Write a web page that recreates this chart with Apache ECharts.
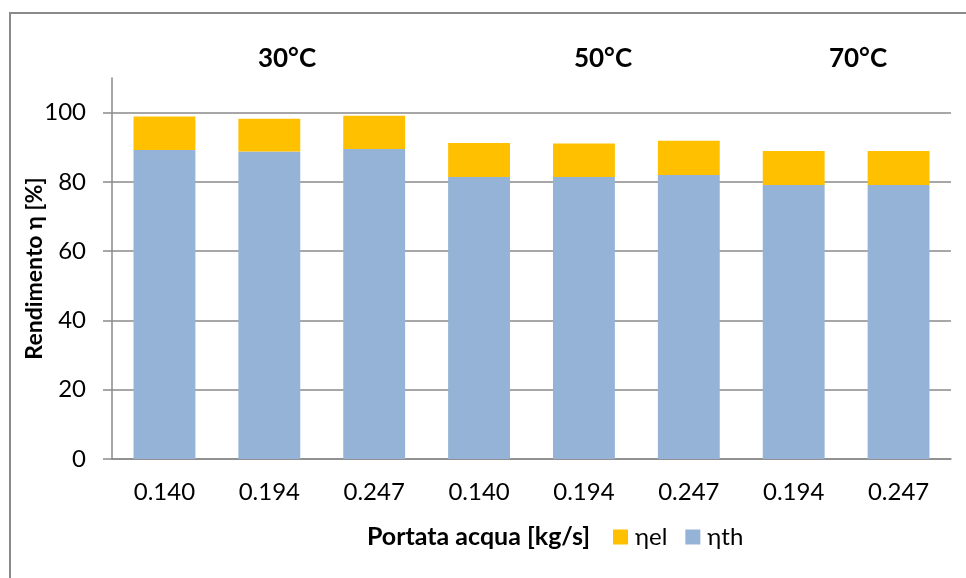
<!DOCTYPE html>
<html>
<head>
<meta charset="utf-8">
<script src="https://cdn.jsdelivr.net/npm/echarts@6/dist/echarts.min.js"></script>
<style>
  html, body { margin: 0; padding: 0; background: #fff; }
  #chart { width: 966px; height: 578px; }
</style>
</head>
<body>
<div id="chart"></div>
<script>
// Water flow rate per test (kg/s), grouped by inlet temperature
const categories = ['0.140', '0.194', '0.247', '0.140', '0.194', '0.247', '0.194', '0.247'];
// Thermal efficiency (%)
const etaTh = [89.2, 88.8, 89.5, 81.4, 81.4, 82.0, 79.1, 79.1];
// Electrical efficiency (%), stacked on top of the thermal one
const etaEl = [9.7, 9.4, 9.6, 9.8, 9.7, 9.9, 9.8, 9.8];
// Temperature group labels
const groupLabels = ['30°C', '50°C', '70°C'];
const groupLabelX = [282, 598, 853];
// Y axis tick values
const yTicks = [0, 20, 40, 60, 80, 100];

const FONT = 'Lato';
const GREY = '#8a8a8a';

const chart = echarts.init(document.getElementById('chart'), null, { renderer: 'canvas' });

const option = {
  backgroundColor: '#fff',
  animation: false,
  textStyle: { fontFamily: FONT, color: '#000' },
  title: groupLabels.map((t, i) => ({
    text: t,
    left: groupLabelX[i],
    top: 41,
    textAlign: 'center',
    textStyle: { fontFamily: FONT, fontWeight: 'bold', fontSize: 26, color: '#000' }
  })),
  graphic: [{
    type: 'rect',
    z: -10,
    silent: true,
    shape: { x: 10, y: 13, width: 1000, height: 620 },
    style: { fill: 'none', stroke: GREY, lineWidth: 2 }
  }],
  legend: {
    data: ['ηel', 'ηth'],
    left: 608,
    top: 520,
    itemWidth: 15,
    itemHeight: 15,
    itemGap: 18,
    icon: 'rect',
    textStyle: { fontFamily: FONT, fontSize: 24, color: '#000', padding: [0, 0, 0, 2] }
  },
  grid: { left: 112, right: 15, top: 78, bottom: 119, containLabel: false },
  xAxis: {
    type: 'category',
    data: categories,
    name: 'Portata acqua [kg/s]',
    nameLocation: 'middle',
    nameGap: 65,
    nameMoveOverlap: false,
    nameTextStyle: { fontFamily: FONT, fontWeight: 'bold', fontSize: 25, color: '#000', padding: [0, 106, 0, 0] },
    axisLine: { lineStyle: { color: GREY, width: 1.5 } },
    axisTick: { show: false },
    axisLabel: { fontFamily: FONT, fontSize: 24, color: '#000', margin: 21 }
  },
  yAxis: {
    type: 'value',
    min: 0,
    max: 110,
    interval: 20,
    name: 'Rendimento η [%]',
    nameLocation: 'middle',
    nameGap: 66,
    nameMoveOverlap: false,
    nameTextStyle: { fontFamily: FONT, fontWeight: 'bold', fontSize: 23, color: '#000' },
    axisLine: { show: true, lineStyle: { color: GREY, width: 1.5 } },
    axisTick: { show: true, inside: false, length: 9, customValues: yTicks, lineStyle: { color: GREY, width: 1.5 } },
    axisLabel: { fontFamily: FONT, fontSize: 24, color: '#000', margin: 26, customValues: yTicks },
    splitLine: { show: true, lineStyle: { color: GREY, width: 1.5 } }
  },
  series: [
    {
      name: 'ηth',
      type: 'bar',
      stack: 'eta',
      data: etaTh,
      barWidth: '59%',
      itemStyle: { color: '#95B3D7' }
    },
    {
      name: 'ηel',
      type: 'bar',
      stack: 'eta',
      data: etaEl,
      barWidth: '59%',
      itemStyle: { color: '#FFC000' }
    }
  ]
};

chart.setOption(option);
</script>
</body>
</html>
